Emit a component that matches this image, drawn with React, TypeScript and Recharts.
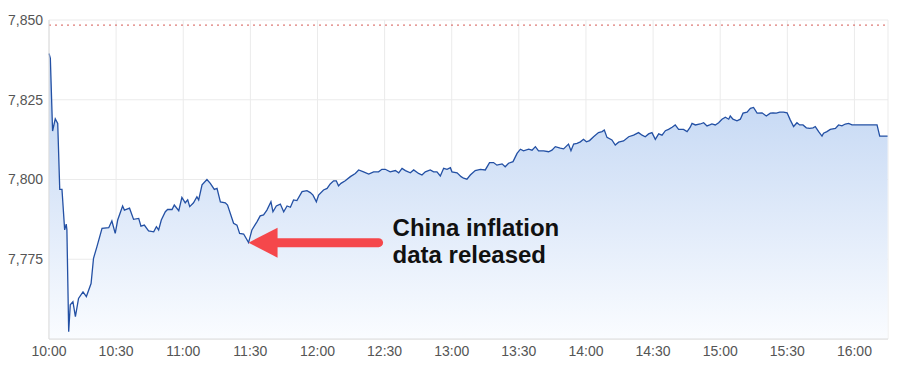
import React from "react";
import {
  AreaChart,
  Area,
  XAxis,
  YAxis,
  CartesianGrid,
  ReferenceLine,
  ReferenceDot,
} from "recharts";

// minutes after 10:00
const minutes = [
  0, 0.6, 1.6, 2.8, 3.9, 4.8, 5.8, 7.0, 7.7, 8.0, 8.8, 9.5, 10.7, 11.8, 13.2,
  15.2, 16.7, 18.8, 19.9, 21.4, 23.7, 26.7, 28.1, 29.6, 30.7, 32.9, 33.7, 36.0,
  37.8, 40.1, 41.1, 42.6, 44.5, 46.8, 48.0, 49.0, 50.2, 52.0, 53.0, 55.0, 56.0,
  58.0, 59.4, 60.9, 62.0, 62.9, 64.6, 66.1, 66.9, 68.4, 70.6, 72.1, 73.9, 75.1,
  76.6, 78.8, 79.8, 82.5, 84.0, 85.2, 87.0, 89.2, 90.7, 93.0, 94.4, 95.9, 97.4,
  99.2, 100.1, 101.6, 103.4, 104.9, 106.4, 107.9, 109.3, 110.8, 113.1, 115.3,
  116.8, 118.0, 119.5, 120.5, 122.7, 124.3, 125.7, 127.2, 128.4, 129.4, 130.5,
  132.4, 134.7, 136.9, 138.4, 140.6, 142.9, 145.1, 147.3, 148.8, 150.3, 152.5,
  154.8, 156.3, 157.8, 159.3, 161.5, 163.0, 165.2, 166.7, 168.2, 170.4, 171.9,
  173.4, 174.9, 176.4, 177.9, 179.4, 180.1, 182.4, 184.2, 185.3, 186.8, 188.3,
  190.5, 192.8, 195.0, 196.9, 198.7, 200.2, 202.5, 203.9, 205.4, 207.4, 209.2,
  210.7, 212.1, 214.4, 215.9, 217.4, 218.8, 221.1, 223.3, 224.8, 226.3, 228.5,
  230.0, 232.2, 233.3, 234.5, 236.0, 237.5, 238.9, 240.2, 241.6, 243.4, 245.6,
  247.2, 248.2, 249.4, 251.6, 253.1, 254.6, 256.8, 259.1, 261.3, 263.5, 265.1,
  266.5, 268.0, 269.5, 271.0, 272.5, 274.0, 275.5, 276.9, 278.5, 279.9, 281.4,
  283.6, 285.2, 286.6, 287.4, 288.9, 291.1, 292.6, 294.1, 295.3, 296.3, 297.8,
  299.3, 300.8, 302.3, 303.8, 304.5, 305.7, 307.5, 309.0, 310.2, 312.0, 313.5,
  314.9, 316.5, 318.7, 320.6, 322.4, 323.6, 325.1, 326.6, 328.3, 329.9, 331.3,
  332.8, 334.3, 335.5, 337.0, 338.5, 340.0, 341.5, 342.5, 344.0, 345.5, 346.2,
  347.7, 349.2, 351.5, 352.9, 354.4, 355.9, 357.4, 358.9, 370.1, 371.3, 374.8,
];

const rate = [
  7839.5, 7838.0, 7815.2, 7819.0, 7817.6, 7796.9, 7796.9, 7784.2, 7786.0, 7784.2,
  7752.3, 7760.7, 7761.7, 7757.0, 7762.7, 7764.8, 7763.3, 7767.4, 7775.3, 7778.9,
  7784.7, 7784.9, 7787.0, 7783.1, 7787.3, 7791.7, 7790.4, 7791.0, 7787.5, 7787.8,
  7785.4, 7785.7, 7783.9, 7783.6, 7785.2, 7784.2, 7787.3, 7789.9, 7790.6, 7790.6,
  7792.0, 7790.2, 7794.4, 7792.7, 7793.6, 7791.5, 7792.7, 7794.6, 7793.6, 7798.3,
  7800.0, 7798.8, 7796.9, 7797.2, 7793.0, 7792.7, 7792.0, 7786.3, 7785.7, 7783.1,
  7782.9, 7780.2, 7784.2, 7786.8, 7788.6, 7788.9, 7790.4, 7793.0, 7789.9, 7791.7,
  7792.3, 7789.9, 7791.7, 7791.3, 7793.6, 7793.4, 7796.2, 7796.5, 7795.9, 7795.1,
  7793.0, 7795.1, 7796.7, 7797.2, 7798.6, 7799.6, 7799.6, 7798.0, 7798.8, 7799.6,
  7800.9, 7801.9, 7803.0, 7802.4, 7801.7, 7802.4, 7802.4, 7803.2, 7803.2, 7802.4,
  7802.8, 7802.1, 7803.5, 7802.8, 7802.1, 7803.0, 7801.9, 7801.4, 7802.4, 7803.0,
  7802.4, 7802.4, 7801.1, 7803.5, 7803.2, 7803.7, 7802.4, 7802.1, 7800.9, 7800.4,
  7800.1, 7801.4, 7802.8, 7803.2, 7803.0, 7805.3, 7805.3, 7804.5, 7804.9, 7804.0,
  7805.1, 7805.6, 7808.2, 7809.5, 7809.0, 7809.5, 7809.2, 7810.3, 7809.0, 7809.0,
  7808.7, 7809.2, 7810.3, 7809.8, 7809.6, 7811.1, 7809.0, 7811.1, 7811.3, 7811.8,
  7812.6, 7811.8, 7812.2, 7813.4, 7814.7, 7815.0, 7815.5, 7813.2, 7812.4, 7810.8,
  7811.7, 7812.1, 7813.4, 7813.9, 7814.7, 7813.9, 7813.4, 7814.3, 7814.7, 7812.6,
  7814.3, 7813.9, 7815.3, 7815.7, 7816.4, 7817.1, 7815.7, 7815.7, 7815.0, 7816.4,
  7817.6, 7817.1, 7817.4, 7817.8, 7816.8, 7817.1, 7817.4, 7817.1, 7817.8, 7818.9,
  7819.5, 7818.9, 7819.9, 7818.9, 7818.4, 7818.9, 7820.8, 7821.1, 7822.3, 7822.6,
  7820.8, 7820.9, 7819.9, 7820.8, 7820.9, 7820.8, 7821.1, 7821.1, 7820.9, 7818.7,
  7816.6, 7817.8, 7817.1, 7817.1, 7816.2, 7816.0, 7816.2, 7816.6, 7815.0, 7813.6,
  7814.5, 7815.0, 7815.7, 7816.0, 7817.1, 7816.8, 7817.4, 7817.6, 7817.1, 7817.1,
  7813.6, 7813.6,
];

const xTicks = [0, 30, 60, 90, 120, 150, 180, 210, 240, 270, 300, 330, 360];
const xLabels = [
  "10:00", "10:30", "11:00", "11:30", "12:00", "12:30", "13:00",
  "13:30", "14:00", "14:30", "15:00", "15:30", "16:00",
];
const yTicks = [7775, 7800, 7825, 7850];
const yLabels = ["7,775", "7,800", "7,825", "7,850"];

const previousClose = 7848.4;
const releaseTime = 89.2;
const releaseRate = 7780.2;
const noteLines = ["China inflation", "data released"];

const data = minutes.map((t, i) => ({ t, v: rate[i] }));

const tickStyle = {
  fontSize: 14,
  fill: "#555",
  fontFamily: "'Liberation Sans', Arial, sans-serif",
};

function ReleaseArrow(props: any) {
  const { cx, cy } = props;
  const red = "#f5474b";
  return (
    <g>
      <line
        x1={cx + 24}
        y1={cy}
        x2={cx + 130}
        y2={cy}
        stroke={red}
        strokeWidth={9}
        strokeLinecap="round"
      />
      <polygon
        points={`${cx},${cy} ${cx + 29},${cy - 15} ${cx + 29},${cy + 15}`}
        fill={red}
      />
      <text
        x={cx + 144}
        y={cy - 7}
        fontSize={24}
        fontWeight="bold"
        fill="#111"
        fontFamily="'Liberation Sans', Arial, sans-serif"
      >
        <tspan x={cx + 144}>{noteLines[0]}</tspan>
        <tspan x={cx + 144} dy={27.5}>
          {noteLines[1]}
        </tspan>
      </text>
    </g>
  );
}

export default function App() {
  return (
    <AreaChart
      width={892}
      height={367}
      data={data}
      margin={{ top: 12, right: 12, bottom: 6, left: 0 }}
    >
      <defs>
        <linearGradient id="rateFill" x1="0" y1="0" x2="0" y2="1">
          <stop offset="0%" stopColor="#bcd2f2" stopOpacity={1} />
          <stop offset="100%" stopColor="#fafcff" stopOpacity={1} />
        </linearGradient>
      </defs>
      <CartesianGrid stroke="#ebebeb" />
      <XAxis
        dataKey="t"
        type="number"
        domain={[0, 375]}
        ticks={xTicks}
        tickFormatter={(v: number) => xLabels[xTicks.indexOf(v)]}
        axisLine={{ stroke: "#dcdcdc" }}
        tickLine={false}
        tickMargin={1}
        height={30}
        tick={tickStyle}
        interval={0}
      />
      <YAxis
        type="number"
        domain={[7750, 7850]}
        ticks={yTicks}
        tickFormatter={(v: number) => yLabels[yTicks.indexOf(v)]}
        axisLine={{ stroke: "#dcdcdc" }}
        tickLine={false}
        tickMargin={0}
        width={41}
        tick={tickStyle}
        interval={0}
      />
      <ReferenceLine
        y={previousClose}
        stroke="#d65a55"
        strokeDasharray="2 4"
        strokeWidth={1}
      />
      <Area
        type="linear"
        dataKey="v"
        stroke="#2350a4"
        strokeWidth={1.3}
        fill="url(#rateFill)"
        fillOpacity={1}
        isAnimationActive={false}
        dot={false}
        activeDot={false}
      />
      <ReferenceDot
        x={releaseTime}
        y={releaseRate}
        r={0}
        shape={ReleaseArrow}
        isFront
      />
    </AreaChart>
  );
}
